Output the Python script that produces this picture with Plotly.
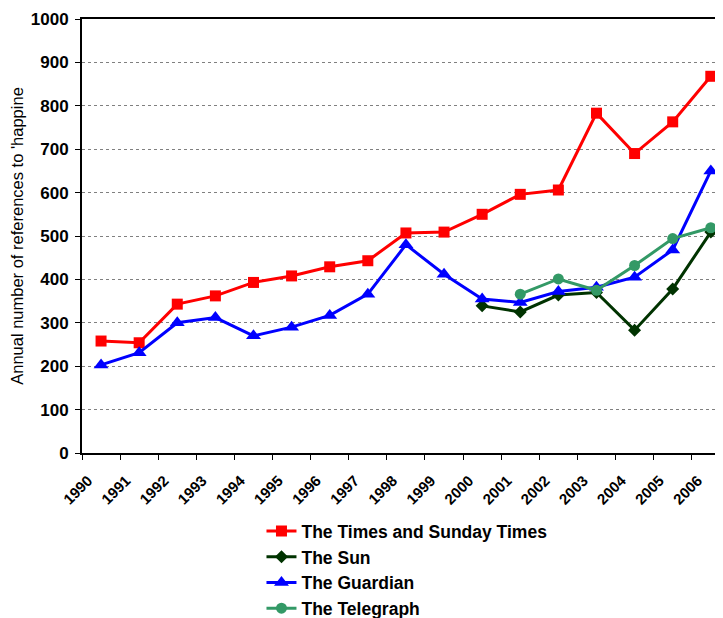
import plotly.graph_objects as go

# data
years = [str(y) for y in range(1990, 2007)]
times = [258, 254, 343, 362, 393, 408, 429, 443, 507, 509, 550, 596, 606, 783, 690, 763, 868]
guardian = [203, 231, 300, 312, 270, 290, 317, 366, 480, 412, 355, 347, 372, 382, 405, 468, 650]
sun_years = years[10:]
sun = [339, 325, 364, 370, 283, 378, 509]
tele_years = years[11:]
telegraph = [366, 401, 375, 432, 494, 519]

FONT = "Arial, Liberation Sans, sans-serif"

fig = go.Figure()
fig.add_trace(go.Scatter(x=years, y=times, name="The Times and Sunday Times", mode="lines+markers",
                         line=dict(color="#FF0000", width=3),
                         marker=dict(symbol="square", size=11, color="#FF0000")))
fig.add_trace(go.Scatter(x=sun_years, y=sun, name="The Sun", mode="lines+markers",
                         line=dict(color="#003300", width=3),
                         marker=dict(symbol="diamond", size=10, color="#003300")))
fig.add_trace(go.Scatter(x=years, y=guardian, name="The Guardian", mode="lines+markers",
                         line=dict(color="#0000FF", width=3),
                         marker=dict(symbol="triangle-up", size=13, color="#0000FF")))
fig.add_trace(go.Scatter(x=tele_years, y=telegraph, name="The Telegraph", mode="lines+markers",
                         line=dict(color="#339966", width=3),
                         marker=dict(symbol="circle", size=11, color="#339966")))

# page body has an 8px margin, so the figure is a bit smaller than the window
fig.update_layout(
    width=715, height=610,
    margin=dict(l=74, r=0, t=11, b=165),
    plot_bgcolor="white", paper_bgcolor="white",
    font=dict(family=FONT, size=16, color="black"),
    legend=dict(x=0.280, y=0.172, xref="paper", yref="container",
                xanchor="left", yanchor="top",
                font=dict(family=FONT, size=17.5, color="black", weight="bold"),
                tracegroupgap=0, itemwidth=30),
)
fig.update_xaxes(
    type="category", categoryorder="array", categoryarray=years,
    range=[-0.5, 16.32], tickson="boundaries", ticks="outside", ticklen=5,
    tickcolor="black", showline=True, linecolor="black", linewidth=2,
    mirror=True, showgrid=False, tickangle=-45, automargin=False,
    ticklabelshift=-13, ticklabelstandoff=11,
    tickfont=dict(family=FONT, size=15, color="black", weight="bold"),
)
fig.update_yaxes(
    range=[0, 1000], dtick=100, ticks="outside", ticklen=5, tickcolor="black",
    showline=True, linecolor="black", linewidth=2, automargin=False,
    showgrid=True, gridcolor="#808080", griddash="dot", gridwidth=1,
    zeroline=False, ticklabelstandoff=3,
    tickfont=dict(family=FONT, size=17, color="black", weight="bold"),
    title=dict(text="Annual number of references to 'happine",
               font=dict(family=FONT, size=16.5, color="black"), standoff=4),
)

fig.write_html("out.html")
